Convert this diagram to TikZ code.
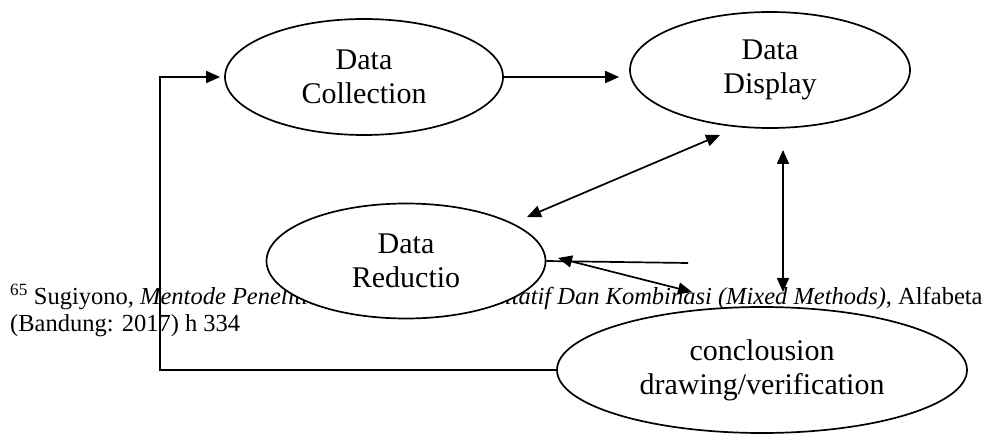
\documentclass[tikz,border=0pt]{standalone}
\usepackage{fontspec}
\setmainfont{Liberation Serif}
\usepackage{tikz}
\usetikzlibrary{shapes.geometric,arrows.meta}

\begin{document}
\begin{tikzpicture}[x=1pt,y=-1pt,
stage/.style={ellipse,draw,fill=white,line width=1.7pt,inner sep=0pt,align=center,
  font=\fontsize{30}{34}\selectfont},
link/.style={line width=1.7pt},
arr/.style={link,-{Triangle[length=14pt,width=12pt]}},
both/.style={link,{Triangle[length=14pt,width=12pt]}-{Triangle[length=14pt,width=12pt]}},
note/.style={anchor=base west,inner sep=0pt,font=\fontsize{24.5}{26}\selectfont}
]
\useasboundingbox (0,0) rectangle (1008,435);
\node[note] (fn1) at (10,305) {\textsuperscript{65} Sugiyono, \textit{Mentode Penelitian Kuantitatif, Kualitatif Dan Kombinasi (Mixed Methods)}, Alfabeta};
\node[note] (fn2) at (10,331) {(Bandung: 2017) h 334};
\node[stage,minimum width=278pt,minimum height=116pt] (coll) at (364,77) {Data\\Collection};
\node[stage,minimum width=280pt,minimum height=116pt] (disp) at (770,70) {Data\\Display};
\node[stage,minimum width=279pt,minimum height=115pt] (red) at (406,261) {Data\\Reductio};
\node[stage,minimum width=410pt,minimum height=126pt] (conc) at (762,370) {conclousion\\drawing/verification};
\coordinate (back) at (160,370);
\coordinate (dr1) at (720,135);
\coordinate (dr2) at (527,217);
\coordinate (dv1) at (783,150);
\coordinate (dv2) at (783,292);
\coordinate (rh) at (688,263);
\coordinate (rc1) at (558,258);
\coordinate (rc2) at (692,292);
\draw[arr,shorten >=10pt] (coll.east) -- (coll.east -| disp.west);
\draw[arr,shorten >=4pt] (conc.west) -- (back) |- (coll.west);
\draw[both] (dr1) -- (dr2);
\draw[both] (dv1) -- (dv2);
\draw[link] (red.east) -- (rh);
\draw[both] (rc1) -- (rc2);
\end{tikzpicture}
\end{document}
